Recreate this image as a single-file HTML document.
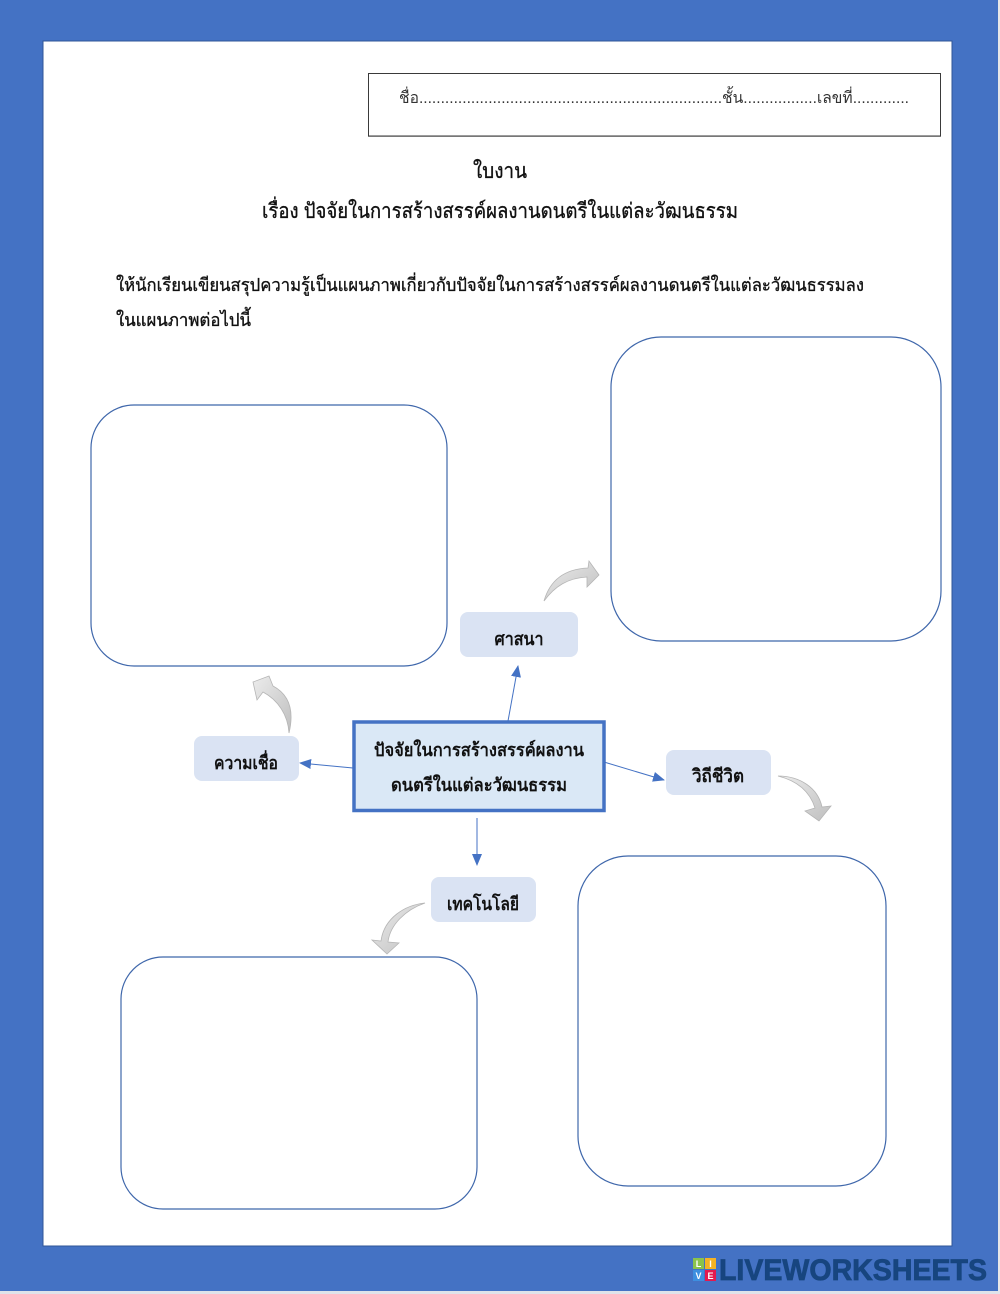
<!DOCTYPE html>
<html lang="th"><head><meta charset="utf-8"><style>
html,body{margin:0;padding:0;background:#fff}
svg{display:block}
text{font-family:"Liberation Serif","Noto Serif CJK SC","DejaVu Serif",serif;fill:#111}
.s{font-family:"Liberation Sans","DejaVu Sans","WenQuanYi Zen Hei",sans-serif}
.b{stroke:#111;stroke-width:.35}
</style></head><body>
<svg width="1000" height="1294" viewBox="0 0 1000 1294" xmlns="http://www.w3.org/2000/svg">
<defs>
<linearGradient id="g" x1="0" y1="0" x2="1" y2="1"><stop offset="0" stop-color="#ececec"/><stop offset="1" stop-color="#bfbfbf"/></linearGradient>
<marker id="m" markerWidth="12" markerHeight="10" refX="11" refY="5" orient="auto" markerUnits="userSpaceOnUse"><path d="M0 0L12 5L0 10Z" fill="#4472c4"/></marker>
</defs>
<rect width="1000" height="1294" fill="#4472c4"/>
<rect x="998" width="2" height="1294" fill="#e8e8e8"/>
<rect y="1291" width="1000" height="3" fill="#dfe3ea"/>
<rect x="43" y="41" width="909" height="1205" fill="#fff" stroke="#2f5597" stroke-width="1"/>

<rect x="368.500" y="73.500" width="572" height="62.500" fill="#fff" stroke="#3a3a3a" stroke-width="1"/>
<path d="M368 136.500H941" stroke="#777" stroke-width="1"/>
<text class="s" x="399" y="103" font-size="16" textLength="510" lengthAdjust="spacingAndGlyphs" style="fill:#333">ชื่อ......................................................................ชั้น.................เลขที่.............</text>
<text class="s b" x="473" y="178" font-size="21" textLength="54" lengthAdjust="spacingAndGlyphs">ใบงาน</text>
<text class="s b" x="262" y="218" font-size="21" textLength="476" lengthAdjust="spacingAndGlyphs">เรื่อง ปัจจัยในการสร้างสรรค์ผลงานดนตรีในแต่ละวัฒนธรรม</text>
<text class="s b" x="116" y="291" font-size="18" textLength="748" lengthAdjust="spacingAndGlyphs">ให้นักเรียนเขียนสรุปความรู้เป็นแผนภาพเกี่ยวกับปัจจัยในการสร้างสรรค์ผลงานดนตรีในแต่ละวัฒนธรรมลง</text>
<text class="s b" x="116" y="326" font-size="18" textLength="135" lengthAdjust="spacingAndGlyphs">ในแผนภาพต่อไปนี้</text>

<g fill="#fff" stroke="#3f67ab" stroke-width="1.200">
<rect x="91" y="405" width="356" height="261" rx="43"/>
<rect x="611" y="337" width="330" height="304" rx="50"/>
<rect x="578" y="856" width="308" height="330" rx="50"/>
<rect x="121" y="957" width="356" height="252" rx="42"/>
</g>

<g fill="#dae3f3">
<rect x="460" y="612" width="118" height="45" rx="8"/>
<rect x="194" y="736" width="105" height="45" rx="8"/>
<rect x="666" y="750" width="105" height="45" rx="8"/>
<rect x="431" y="877" width="105" height="45" rx="8"/>
</g>
<rect x="354" y="722" width="250" height="88.500" fill="#dae8f6" stroke="#4472c4" stroke-width="3.500"/>

<g stroke="#4472c4" stroke-width="1" fill="none" marker-end="url(#m)">
<path d="M508 721L518 666"/>
<path d="M353 768L300 763"/>
<path d="M604 762L664 780"/>
<path d="M477 818V865"/>
</g>

<g fill="url(#g)" stroke="#b5b5b5" stroke-width=".8">
<path d="M544 601C550 580 565 569 588 568L589 561L599 575L587 587L587 577C568 578 555 586 544 601Z"/>
<path d="M289 733C294 712 290 695 273 686L269 676L253 682L257 700L263 692C278 700 288 715 289 733Z"/>
<path d="M778 776C800 776 818 788 822 807L831 806L819 821L805 811L815 808C810 792 798 781 778 776Z"/>
<path d="M425 903C405 905 384 918 381 941L372 940L387 954L399 943L388 942C390 925 405 910 425 903Z"/>
</g>

<g font-weight="bold" font-size="18" text-anchor="middle">
<text class="s" x="479" y="756" textLength="210" lengthAdjust="spacingAndGlyphs">ปัจจัยในการสร้างสรรค์ผลงาน</text>
<text class="s" x="479" y="791" textLength="176" lengthAdjust="spacingAndGlyphs">ดนตรีในแต่ละวัฒนธรรม</text>
<text class="s" x="519" y="645" textLength="49" lengthAdjust="spacingAndGlyphs">ศาสนา</text>
<text class="s" x="246" y="769" textLength="64" lengthAdjust="spacingAndGlyphs">ความเชื่อ</text>
<text class="s" x="718" y="782" textLength="52" lengthAdjust="spacingAndGlyphs">วิถีชีวิต</text>
<text class="s" x="483" y="910" textLength="72" lengthAdjust="spacingAndGlyphs">เทคโนโลยี</text>
</g>

<g font-size="9" font-weight="bold" text-anchor="middle">
<rect x="693" y="1258" width="11" height="11" fill="#8bc34a"/><rect x="705" y="1258" width="11" height="11" fill="#f5b324"/>
<rect x="693" y="1270" width="11" height="11" fill="#3d8fe0"/><rect x="705" y="1270" width="11" height="11" fill="#e5194f"/>
<text class="s" x="698.500" y="1267" style="fill:#fff">L</text><text class="s" x="710.500" y="1267" style="fill:#fff">I</text>
<text class="s" x="698.500" y="1279" style="fill:#fff">V</text><text class="s" x="710.500" y="1279" style="fill:#fff">E</text>
</g>
<text class="s" x="719" y="1280" font-size="30" font-weight="bold" textLength="268" lengthAdjust="spacingAndGlyphs" style="fill:#17457f;stroke:#17457f;stroke-width:.8">LIVEWORKSHEETS</text>
</svg>
</body></html>
